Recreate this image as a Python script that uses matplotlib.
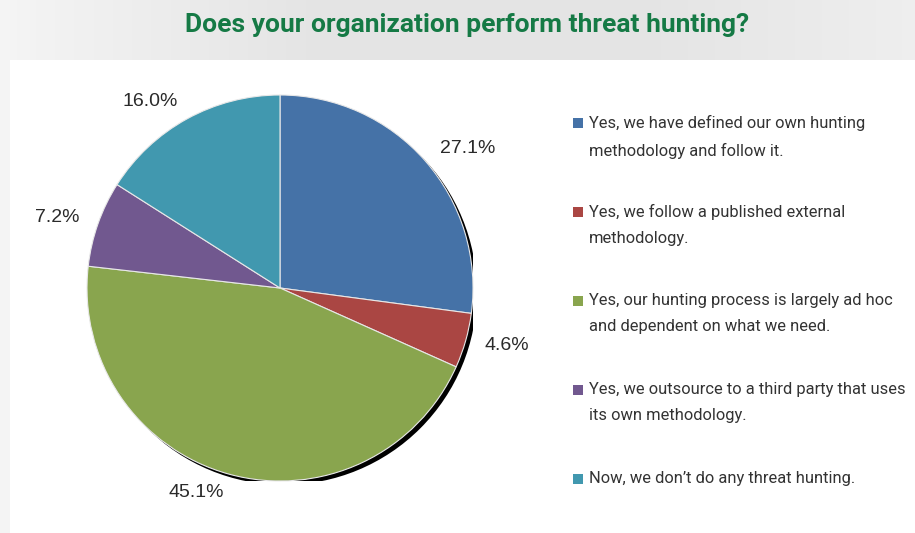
import numpy as np
import matplotlib.pyplot as plt
from matplotlib.patches import Rectangle, Circle

plt.rcParams['font.family'] = ['Liberation Sans', 'DejaVu Sans']

# survey answers, in drawing order (clockwise from 12 o'clock)
answers = [
    'Yes, we have defined our own hunting\nmethodology and follow it.',
    'Yes, we follow a published external\nmethodology.',
    'Yes, our hunting process is largely ad hoc\nand dependent on what we need.',
    'Yes, we outsource to a third party that uses\nits own methodology.',
    'Now, we don\u2019t do any threat hunting.',
]
shares = [27.1, 4.6, 45.1, 7.2, 16.0]
colors = ['#4572A7', '#AA4643', '#89A54E', '#71588F', '#4198AF']

W, H = 915, 533
fig = plt.figure(figsize=(W / 100, H / 100), dpi=100, facecolor='#e6e7e8')

# soft grey backdrop, lighter at both ends
bg = fig.add_axes([0, 0, 1, 1], zorder=-10)
xs = np.linspace(0, 1, 400)
shade = np.interp(xs, [0, 0.35, 0.7, 1], [0.96, 0.895, 0.895, 0.935])
bg.imshow(np.tile(shade, (2, 1))[..., None].repeat(3, axis=2), aspect='auto',
          extent=[0, 1, 0, 1], interpolation='bilinear')
bg.axis('off')

# white panel under the chart
fig.patches.append(Rectangle((10 / W, 0), 1, (H - 60) / H, transform=fig.transFigure,
                             facecolor='white', edgecolor='none', zorder=-5))

fig.text(467 / W, 1 - 25 / H, 'Does your organization perform threat hunting?',
         ha='center', va='center', fontsize=19, fontweight='bold', color='#157a45',
         family=['Roboto', 'DejaVu Sans'])

cx, cy, r = 280, 288, 193
ax = fig.add_axes([(cx - r) / W, (H - cy - r) / H, 2 * r / W, 2 * r / H])
ax.set_zorder(2)
ax.axis('off')

# drop shadow behind the pie
ax.add_patch(Circle((0.02, -0.02), 1.0, facecolor='black', edgecolor='none', zorder=0))

wedges, texts = ax.pie(shares, colors=colors, startangle=90, counterclock=False,
                       radius=1.0, labels=[f'{s:.1f}%' for s in shares],
                       labeldistance=1.1,
                       wedgeprops=dict(edgecolor='#e8e8e8', linewidth=0.8),
                       textprops=dict(fontsize=14, color='#2a2a2a'))
ax.set_xlim(-1, 1)
ax.set_ylim(-1, 1)
for t in texts:
    t.set_zorder(5)

# legend entries, one block per answer
top = 123
for i, (label, c) in enumerate(zip(answers, colors)):
    y = top + i * 89
    fig.patches.append(Rectangle((573 / W, 1 - (y + 5) / H), 10 / W, 10 / H,
                                 transform=fig.transFigure, facecolor=c,
                                 edgecolor='none', zorder=3))
    fig.text(589 / W, 1 - (y - 8) / H, label, ha='left', va='top', fontsize=11.9,
             color='#333333', linespacing=1.9,
             family=['Roboto', 'DejaVu Sans'])

fig.savefig('out.png', dpi=100, facecolor=fig.get_facecolor())
